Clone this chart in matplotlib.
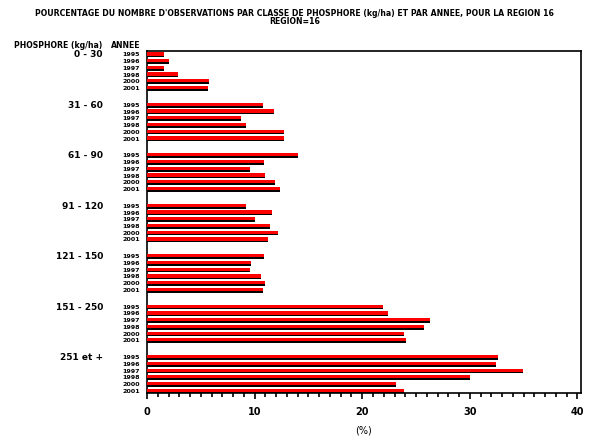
import matplotlib
matplotlib.use("Agg")
from matplotlib import pyplot as plt
from matplotlib.ticker import MultipleLocator

plt.rcParams['font.family'] = ['Liberation Sans Narrow', 'DejaVu Sans']
plt.rcParams['font.weight'] = 'bold'

classes = ['0 - 30', '31 - 60', '61 - 90', '91 - 120', '121 - 150', '151 - 250', '251 et +']
years = ['1995', '1996', '1997', '1998', '2000', '2001']

# pourcentage par classe, une valeur par annee
pct_0_30 = [1.6, 2.0, 1.6, 2.9, 5.8, 5.7]
pct_31_60 = [10.8, 11.8, 8.7, 9.2, 12.7, 12.7]
pct_61_90 = [14.0, 10.9, 9.6, 11.0, 11.9, 12.4]
pct_91_120 = [9.2, 11.6, 10.0, 11.4, 12.2, 11.2]
pct_121_150 = [10.9, 9.7, 9.6, 10.6, 11.0, 10.8]
pct_151_250 = [21.9, 22.4, 26.3, 25.7, 23.9, 24.1]
pct_251_plus = [32.6, 32.4, 34.9, 30.0, 23.1, 23.9]

groups = [pct_0_30, pct_31_60, pct_61_90, pct_91_120, pct_121_150, pct_151_250, pct_251_plus]

GROUP_STEP = 7.5
AX_LEFT, AX_RIGHT, AX_TOP, AX_BOTTOM = 147, 581, 51, 393
W, H = 589, 438

fig = plt.figure(figsize=(W / 100, H / 100), dpi=100)
ax = fig.add_axes([AX_LEFT / W, 1 - AX_BOTTOM / H, (AX_RIGHT - AX_LEFT) / W, (AX_BOTTOM - AX_TOP) / H])
ax_w = AX_RIGHT - AX_LEFT

for g, values in enumerate(groups):
    base = g * GROUP_STEP
    ys = [base + j for j in range(len(values))]
    # black shadow under each red bar
    ax.barh([y + 0.1 for y in ys], values, height=0.66, color='black', left=0, zorder=2)
    ax.barh([y - 0.05 for y in ys], values, height=0.48, color='#ff0000', left=0, zorder=3)
    # year labels next to the axis, class label on the first row
    for y, yr in zip(ys, years):
        ax.text(-7 / ax_w, y + 0.1, yr, transform=ax.get_yaxis_transform(), ha='right', va='center',
                fontsize=4.6, clip_on=False)
    ax.text(-44 / ax_w, base + 0.1, classes[g], transform=ax.get_yaxis_transform(), ha='right',
            va='center', fontsize=6.5, clip_on=False)

ax.set_ylim(50.35, -0.48)
ax.set_xlim(0, 40.33)
ax.set_yticks([])
ax.xaxis.set_major_locator(MultipleLocator(10))
ax.xaxis.set_minor_locator(MultipleLocator(1))
ax.tick_params(axis='x', which='major', direction='out', length=4, width=1.2, labelsize=7, pad=6)
ax.tick_params(axis='x', which='minor', direction='out', length=3, width=1.2)
for s in ax.spines.values():
    s.set_linewidth(1.2)
ax.set_xlabel('(%)', fontsize=7, labelpad=6)

fig.text(14 / W, 1 - 45 / H, 'PHOSPHORE (kg/ha)', ha='left', va='center', fontsize=5.6)
fig.text(140 / W, 1 - 45 / H, 'ANNEE', ha='right', va='center', fontsize=5.6)

fig.text(0.5, 1 - 13 / H,
         "POURCENTAGE DU NOMBRE D'OBSERVATIONS PAR CLASSE DE PHOSPHORE (kg/ha) ET PAR ANNEE, POUR LA REGION 16",
         ha='center', va='center', fontsize=5.6)
fig.text(0.5, 1 - 22 / H, 'REGION=16', ha='center', va='center', fontsize=5.6)

fig.savefig('out.png', dpi=100)
